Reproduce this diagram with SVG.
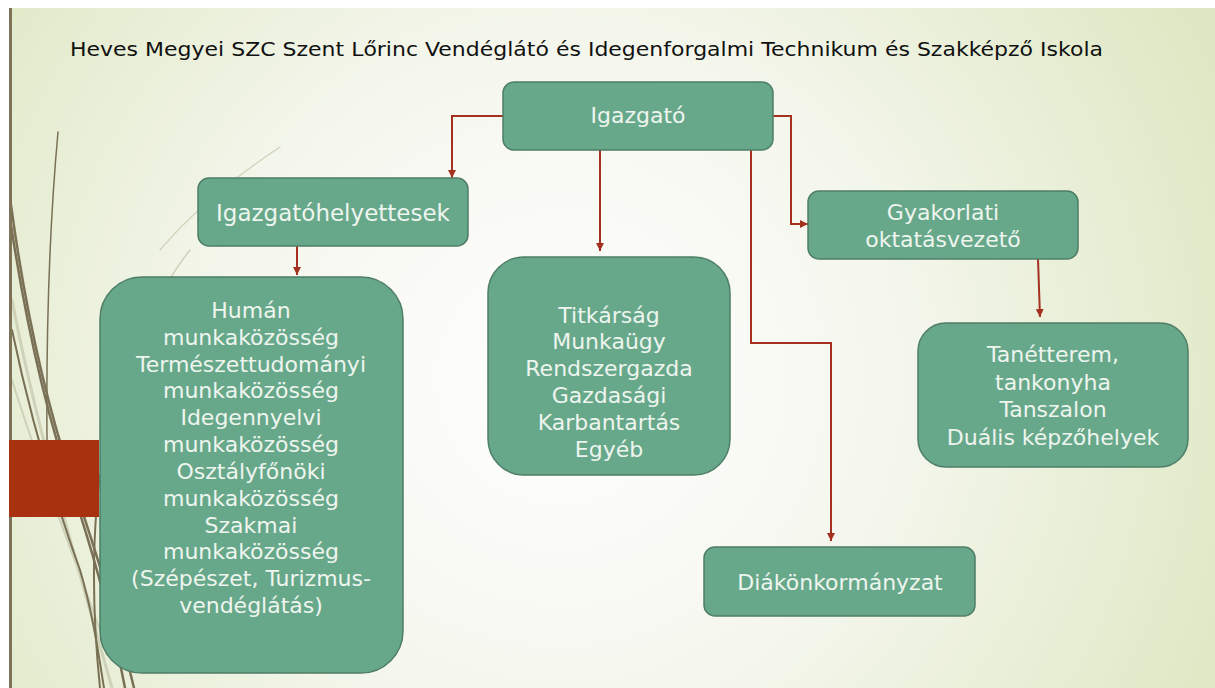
<svg xmlns="http://www.w3.org/2000/svg" width="1215" height="688" viewBox="0 0 1215 688">
  <defs>
    <radialGradient id="bg" cx="560" cy="380" r="720" gradientUnits="userSpaceOnUse">
      <stop offset="0" stop-color="#ffffff"/>
      <stop offset="0.45" stop-color="#f5f7ee"/>
      <stop offset="1" stop-color="#dfe8c4"/>
    </radialGradient>
    <marker id="ah" markerUnits="userSpaceOnUse" markerWidth="9" markerHeight="8" refX="8" refY="4" orient="auto">
      <path d="M0,0 L8,4 L0,8 z" fill="#a4311f"/>
    </marker>
    <style>
      .box{fill:#67a88b;stroke:#4f7e66;stroke-width:1.5}
      .t{font-family:"DejaVu Sans",sans-serif;font-size:22px;fill:#eef5ee;text-anchor:middle}
      .c{fill:none;stroke:#a4311f;stroke-width:2}
      .deco{fill:none;stroke:#7a7055;stroke-linecap:round}
      .lite{fill:none;stroke:#cdd2b8;stroke-linecap:round}
    </style>
  </defs>
  <rect width="1215" height="688" fill="#ffffff"/>
  <rect x="9" y="8" width="1206" height="680" fill="url(#bg)"/>

  <g id="decoration">
    <path class="lite" stroke-width="1.2" d="M280,147 C230,180 190,215 160,250"/>
    <path class="lite" stroke-width="1.5" d="M190,250 C150,300 115,390 98,470"/>
    <path class="lite" stroke-width="3" d="M12,300 C35,420 70,540 112,688"/>
    <path class="lite" stroke-width="2" d="M12,380 C40,470 75,560 100,630"/>
    <path class="deco" stroke-width="1.5" d="M58,132 C50,220 46,320 47,440"/>
    <path class="deco" stroke-width="2.5" d="M11,205 C28,330 52,420 72,480 C92,540 118,620 134,688"/>
    <path class="deco" stroke-width="2.5" d="M11,225 C30,350 55,440 74,495 C92,550 112,620 125,688"/>
    <path class="deco" stroke-width="2" d="M12,330 C35,440 62,520 80,570 C92,610 98,650 104,688"/>
    <path class="deco" stroke-width="2" d="M100,475 C93,530 91,600 100,688"/>
    <rect x="9" y="8" width="3" height="680" fill="#7c7358"/>
    <rect x="9" y="440" width="90" height="77" fill="#a8310f"/>
  </g>

  <text x="70" y="56" textLength="1033" lengthAdjust="spacingAndGlyphs" style="font-family:'DejaVu Sans',sans-serif;font-size:19px;fill:#111">Heves Megyei SZC Szent Lőrinc Vendéglátó és Idegenforgalmi Technikum és Szakképző Iskola</text>

  <g id="connectors">
    <path class="c" d="M503,116 H452 V178" marker-end="url(#ah)"/>
    <path class="c" d="M600,150 V251" marker-end="url(#ah)"/>
    <path class="c" d="M773,116 H791 V224 H808" marker-end="url(#ah)"/>
    <path class="c" d="M751,150 V343 H831 V541" marker-end="url(#ah)"/>
    <path class="c" d="M297,246 V275" marker-end="url(#ah)"/>
    <path class="c" d="M1038,259 L1040,317" marker-end="url(#ah)"/>
  </g>

  <g id="igazgato">
    <rect class="box" x="503" y="82" width="270" height="68" rx="11"/>
    <text class="t" x="638" y="123">Igazgató</text>
  </g>
  <g id="igazgatohelyettesek">
    <rect class="box" x="198" y="178" width="270" height="68" rx="11"/>
    <text class="t" x="333" y="221" style="font-size:23px">Igazgatóhelyettesek</text>
  </g>
  <g id="gyakorlati">
    <rect class="box" x="808" y="191" width="270" height="68" rx="11"/>
    <text class="t" x="943" y="220">Gyakorlati</text>
    <text class="t" x="943" y="247">oktatásvezető</text>
  </g>
  <g id="titkarsag">
    <rect class="box" x="488" y="257" width="242" height="218" rx="36"/>
    <text class="t" x="609" y="323">Titkárság</text>
    <text class="t" x="609" y="349">Munkaügy</text>
    <text class="t" x="609" y="376">Rendszergazda</text>
    <text class="t" x="609" y="403">Gazdasági</text>
    <text class="t" x="609" y="430">Karbantartás</text>
    <text class="t" x="609" y="457">Egyéb</text>
  </g>
  <g id="human">
    <rect class="box" x="100" y="277" width="303" height="396" rx="42"/>
    <text class="t" x="251" y="318">Humán</text>
    <text class="t" x="251" y="345">munkaközösség</text>
    <text class="t" x="251" y="372">Természettudományi</text>
    <text class="t" x="251" y="398">munkaközösség</text>
    <text class="t" x="251" y="425">Idegennyelvi</text>
    <text class="t" x="251" y="452">munkaközösség</text>
    <text class="t" x="251" y="479">Osztályfőnöki</text>
    <text class="t" x="251" y="506">munkaközösség</text>
    <text class="t" x="251" y="533">Szakmai</text>
    <text class="t" x="251" y="559">munkaközösség</text>
    <text class="t" x="251" y="586">(Szépészet, Turizmus-</text>
    <text class="t" x="251" y="613">vendéglátás)</text>
  </g>
  <g id="tanetterem">
    <rect class="box" x="918" y="323" width="270" height="144" rx="28"/>
    <text class="t" x="1053" y="362">Tanétterem,</text>
    <text class="t" x="1053" y="390">tankonyha</text>
    <text class="t" x="1053" y="417">Tanszalon</text>
    <text class="t" x="1053" y="445">Duális képzőhelyek</text>
  </g>
  <g id="diakonkormanyzat">
    <rect class="box" x="704" y="547" width="271" height="69" rx="11"/>
    <text class="t" x="840" y="590">Diákönkormányzat</text>
  </g>
</svg>
